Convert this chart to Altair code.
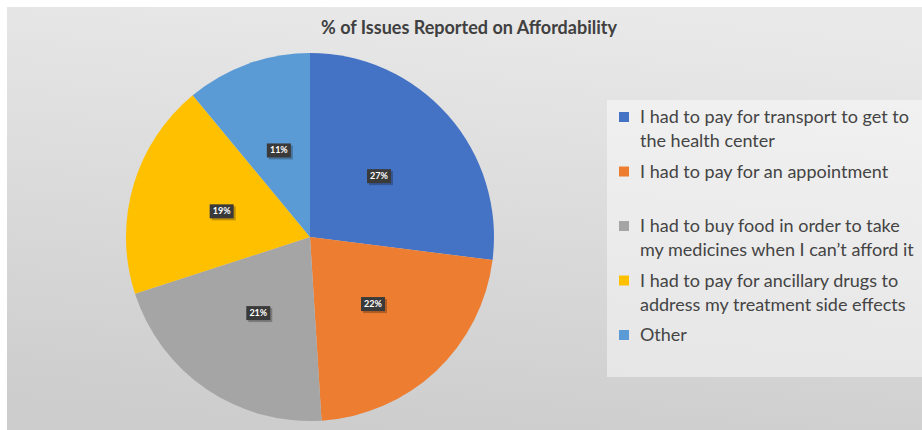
import json
import altair as alt
import pandas as pd

categories = [
    "I had to pay for transport to get to the health center",
    "I had to pay for an appointment",
    "I had to buy food in order to take my medicines when I can’t afford it",
    "I had to pay for ancillary drugs to address my treatment side effects",
    "Other",
]
values = [27, 22, 21, 19, 11]
colors = ["#4472C4", "#ED7D31", "#A5A5A5", "#FFC000", "#5B9BD5"]
legend_lines = [
    ["I had to pay for transport to get to", "the health center"],
    ["I had to pay for an appointment", " "],
    ["I had to buy food in order to take", "my medicines when I can’t afford it"],
    ["I had to pay for ancillary drugs to", "address my treatment side effects"],
    ["Other", " "],
]
title_text = "% of Issues Reported on Affordability"

df = pd.DataFrame({"category": categories, "value": values, "idx": list(range(len(categories)))})

label_expr = " : ".join(
    f"datum.label === {json.dumps(c, ensure_ascii=False)} ? {json.dumps(l, ensure_ascii=False)}"
    for c, l in zip(categories, legend_lines)
) + " : datum.label"

FONT = "Lato"

bg = alt.Chart(alt.Data(values=[{"a": 1}])).mark_rect(
    color=alt.LinearGradient(
        gradient="linear",
        stops=[alt.GradientStop(color="#e9e9e9", offset=0), alt.GradientStop(color="#cdcdcd", offset=1)],
        x1=0.6, y1=0, x2=0.4, y2=1,
    )
).encode(x=alt.value(7), x2=alt.value(922), y=alt.value(-37), y2=alt.value(386))

base = alt.Chart(df)

pie = base.mark_arc(outerRadius=184).encode(
    theta=alt.Theta("value:Q", stack=True),
    color=alt.Color(
        "category:N",
        scale=alt.Scale(domain=categories, range=colors),
        sort=categories,
        legend=alt.Legend(
            title=None,
            orient="none",
            legendX=607,
            legendY=56,
            padding=8,
            fillColor="rgba(255,255,255,0.45)",
            symbolType="square",
            symbolSize=100,
            symbolStrokeWidth=0,
            labelFont=FONT,
            labelFontSize=18,
            labelColor="#444444",
            labelLimit=0,
            labelOffset=7,
            labelBaseline="alphabetic",
            labelExpr=label_expr,
            rowPadding=11.5,
        ),
    ),
    order=alt.Order("idx:Q"),
)

xs = alt.Scale(domain=[-310, 310], nice=False, zero=False)
ys = alt.Scale(domain=[-193, 193], nice=False, zero=False)

lab = base.transform_joinaggregate(total="sum(value)").transform_window(
    cum="sum(value)", sort=[alt.SortField("idx")], frame=[None, 0]
).transform_calculate(
    mid="2*PI*(datum.cum - datum.value/2)/datum.total",
    lx="92*sin(datum.mid)",
    ly="92*cos(datum.mid)",
    bx1="datum.lx - 12",
    bx2="datum.lx + 12",
    by1="datum.ly - 7",
    by2="datum.ly + 7",
    sx1="datum.lx - 10",
    sx2="datum.lx + 14",
    sy1="datum.ly - 9",
    sy2="datum.ly + 5",
    txt="datum.value + '%'",
)

shadow = lab.mark_rect(color="#000000", opacity=0.25).encode(
    x=alt.X("sx1:Q", scale=xs, axis=None), x2="sx2:Q",
    y=alt.Y("sy1:Q", scale=ys, axis=None), y2="sy2:Q",
)
box = lab.mark_rect(color="#3a3a3a").encode(
    x=alt.X("bx1:Q", scale=xs, axis=None), x2="bx2:Q",
    y=alt.Y("by1:Q", scale=ys, axis=None), y2="by2:Q",
)
text = lab.mark_text(color="white", font=FONT, fontSize=9, fontWeight="bold").encode(
    x=alt.X("lx:Q", scale=xs, axis=None),
    y=alt.Y("ly:Q", scale=ys, axis=None),
    text="txt:N",
)

chart = alt.layer(bg, pie, shadow, box, text).properties(
    width=620,
    height=386,
    padding={"left": 0, "top": 44, "right": 302, "bottom": 0},
    autosize=alt.AutoSizeParams(type="none"),
    background="white",
    title=alt.TitleParams(
        title_text, font=FONT, fontSize=18, fontWeight="bold", color="#404040",
        anchor="middle", frame="group", dx=159, offset=8, dy=39,
    ),
).configure(
    style={"guide-label": {"lineHeight": 24, "dy": 6}},
    view=alt.ViewConfig(stroke=None),
)

chart.save("out.html", embed_options={"renderer": "svg", "actions": False})
